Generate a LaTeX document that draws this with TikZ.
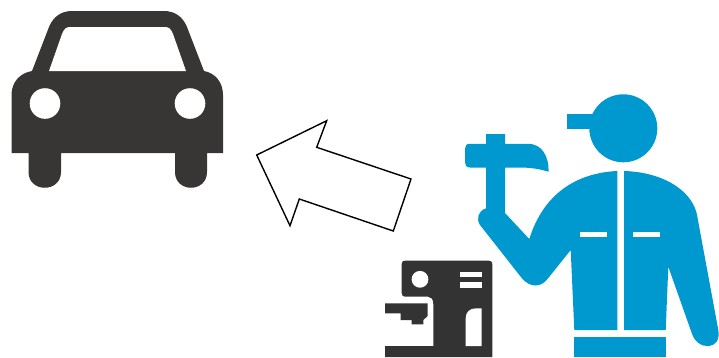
\documentclass[tikz,border=0pt]{standalone}
\definecolor{cardark}{HTML}{373634}
\definecolor{workerblue}{HTML}{0099CF}
\definecolor{machinedark}{HTML}{333333}
\tikzset{
  carfill/.style={fill=cardark,draw=none},
  workerfill/.style={fill=workerblue,draw=none},
  machinefill/.style={fill=machinedark,draw=none},
  cutout/.style={fill=white,draw=none},
  bigarrow/.style={draw=black,fill=white,line width=1.4pt,line join=miter}
}
\begin{document}
\begin{tikzpicture}[x=1pt,y=-1pt]
\useasboundingbox (0,0) rectangle (719,357);
% car
\path[carfill] (11.5,153) -- (11.5,95) .. controls (11.5,82) and (20,73) .. (32,71)
  -- (49,27) .. controls (53,17) and (61,11) .. (72,11) -- (164,11)
  .. controls (175,11) and (183,17) .. (187,27) -- (204,71)
  .. controls (215,73) and (223,82) .. (223,95) -- (223,153) -- (207,153) -- (207,172)
  .. controls (207,193) and (175,193) .. (175,172) -- (175,153) -- (61,153) -- (61,172)
  .. controls (61,193) and (28.5,193) .. (28.5,172) -- (28.5,153) -- cycle;
\path[cutout] (49,71) -- (62,34) .. controls (64,29) and (66,27) .. (70,27) -- (165,27)
  .. controls (169,27) and (171,29) .. (173,34) -- (186,71) -- cycle;
\path[cutout] (45,103.5) circle (15.3);
\path[cutout] (190,103.5) circle (15.3);
% arrow
\path[bigarrow] (326.7,120.7) -- (316.7,147.3) -- (411,179) -- (393.3,231) -- (299.3,199) -- (290,225.7) -- (256.7,155) -- cycle;
% worker
\path[workerfill] (623.3,128.3) circle (34);
\path[workerfill] (567.3,114) rectangle (600,129.3);
\path[workerfill] (617.3,171) -- (617.3,330) -- (574.3,330) -- (570.7,250) -- (548.3,278)
  .. controls (541,288) and (530,288) .. (521.7,278) -- (480,225)
  .. controls (476,219) and (478,211) .. (486,208.3) -- (486,167.5) -- (470,167.5)
  .. controls (466,167.5) and (465,165) .. (465,162) -- (465,149)
  .. controls (465,146) and (466,143.8) .. (470,143.8) -- (486,143.8) -- (486,134) -- (505,134)
  -- (505,143.8) -- (528,143.8) .. controls (541,143.8) and (549,155) .. (548.5,171.7)
  .. controls (540,169) and (530,167.5) .. (520,167.5) -- (505,167.5) -- (505,213) -- (529.3,239)
  .. controls (543,195) and (575,173) .. (617.3,171) -- cycle;
\path[workerfill] (624,171) .. controls (660,172) and (690,188) .. (696.7,213.3)
  -- (718.3,330) .. controls (722,351) and (697,351) .. (691.7,333) -- (668.3,266.7)
  -- (665.7,330) -- (624,330) -- cycle;
\path[workerfill] (574.3,337.3) rectangle (665.7,357);
\path[cutout] (580,231.7) rectangle (606.7,236.7);
\path[cutout] (633.3,231.7) rectangle (660,236.7);
% machine
\path[machinefill] (401.7,264) .. controls (401.7,261.5) and (403,260.7) .. (405,260.7) -- (489,260.7)
  .. controls (491.3,260.7) and (492.3,262) .. (492.3,264) -- (492.3,357) -- (385,357) -- (385,346)
  -- (433.3,346) -- (433.3,304) .. controls (433.3,299) and (431,296.7) .. (428,296.7)
  -- (405,296.7) .. controls (403,296.7) and (401.7,295.5) .. (401.7,293) -- cycle;
\path[machinefill] (385,303.3) -- (427.7,303.3) -- (427.7,316) -- (423.3,320) -- (423.3,324.3) -- (411.7,324.3)
  -- (411.7,320) -- (400.7,320) -- (400.7,313.3) -- (385,313.3) -- cycle;
\path[cutout] (420,279.3) circle (8.4);
\path[cutout] (460,271.7) rectangle (481.7,277.3);
\path[cutout] (460,282.3) rectangle (481.7,287.7);
\path[cutout] (465.7,346) -- (465.7,318) .. controls (465.7,312) and (470,308.3) .. (476,308.3)
  -- (481.7,308.3) -- (481.7,346) -- cycle;
\end{tikzpicture}
\end{document}
